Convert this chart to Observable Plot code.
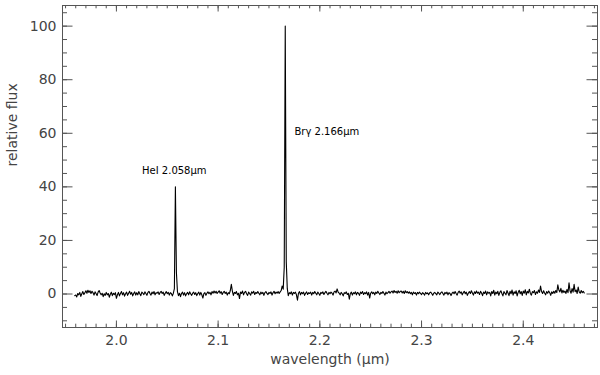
<!DOCTYPE html>
<html><head><meta charset="utf-8">
<script src="https://cdn.jsdelivr.net/npm/d3@7"></script>
<script src="https://cdn.jsdelivr.net/npm/@observablehq/plot@0.6"></script>
<style>body{margin:0;background:#fff}#chart svg{display:block}</style>
</head><body><div id="chart"></div>
<script>
// Spectrum sampled every 0.001 µm starting at 1.959 µm
const waveStart = 1.959;
const waveStep = 0.001;
const flux = [
 -0.6,
 -0.4,-1.1,0.2,-0.3,0.6,-0.9,0.1,0.9,-0.2,0.5,
 1.2,0.3,1.4,0.6,1.2,0.2,1.0,0.5,-0.4,0.8,
 0.2,-0.6,0.7,1.3,0.4,-0.3,0.3,-1.0,0.1,-0.5,
 0.6,-0.3,0.2,-1.2,-0.1,0.7,-0.6,0.3,-0.2,0.5,
 -1.6,-0.3,0.6,-0.7,0.2,0.9,-0.3,0.5,-0.8,0.1,
 0.7,-0.5,0.3,1.0,-0.1,0.6,-0.7,0.2,0.8,-0.4,
 0.5,-0.3,0.9,0.1,-0.6,0.7,0.3,-0.2,0.8,0.2,
 -0.5,0.6,1.0,0.2,-0.4,0.7,0.1,0.9,-0.3,0.5,
 0.3,0.8,-0.2,0.6,1.0,0.2,0.7,-0.5,0.3,0.9,
 0.1,0.6,-0.4,0.5,0.2,-0.7,0.3,2.0,40.0,8.0,
 0.9,-0.6,0.3,-1.0,0.2,0.7,-0.4,0.5,-0.7,0.1,
 0.6,-0.3,0.8,0.1,-0.5,0.3,0.7,-0.2,0.5,-0.6,
 0.2,0.7,-0.4,0.6,-0.3,-1.5,0.1,0.5,-0.5,0.3,
 0.8,0.1,0.6,-0.3,0.9,0.3,1.1,0.4,1.0,0.2,
 0.7,1.2,0.3,0.9,-0.2,0.6,1.0,0.2,0.7,-0.4,
 0.5,0.1,1.3,3.6,1.1,-0.5,0.6,0.2,0.9,-0.3,
 0.3,-1.7,0.7,0.2,1.1,-0.3,0.6,1.0,0.1,-0.5,
 0.7,0.2,-0.4,0.8,0.3,1.0,-0.2,0.6,0.2,0.9,
 0.3,-0.3,0.7,0.1,0.6,-0.5,0.5,0.9,0.2,-0.2,
 0.6,0.2,0.8,-0.4,0.5,1.0,0.1,0.7,0.3,0.9,
 0.2,0.8,1.3,3.0,1.8,10.0,100.0,12.0,2.0,-0.6,
 0.5,0.1,0.8,-0.4,0.6,0.2,0.7,-0.3,-2.3,0.3,
 0.9,-0.3,0.6,0.1,0.7,-0.5,0.3,0.8,-0.2,0.5,
 0.2,0.7,-0.4,0.6,0.1,0.9,0.3,-0.3,0.7,0.2,
 -0.5,0.6,0.2,0.8,-0.2,0.5,1.0,0.3,-0.3,0.6,
 0.1,0.7,0.3,-0.4,0.8,1.1,0.4,1.9,0.7,0.3,
 -0.3,0.6,0.1,-0.7,0.5,0.2,0.8,-0.2,0.3,-1.9,
 0.2,0.7,-0.4,0.5,0.1,0.8,-0.3,0.6,0.3,-0.5,
 0.7,0.2,0.9,-0.2,0.5,0.1,0.8,-0.4,0.6,-1.5,
 0.3,0.8,0.1,0.6,-0.3,0.7,0.2,1.0,0.4,-0.2,
 0.6,0.2,0.9,0.3,-0.4,0.7,0.1,0.5,1.0,0.3,
 0.8,1.1,0.4,1.3,0.6,1.0,0.3,1.2,0.5,0.9,
 1.1,0.4,1.0,0.2,1.2,0.5,0.9,0.3,0.8,0.1,
 0.6,-0.3,0.7,0.2,0.5,-0.4,0.6,0.1,0.7,0.2,
 -0.2,0.5,0.2,-0.4,0.6,0.1,0.4,-0.3,0.5,0.7,
 0.2,-0.5,0.3,0.6,0.1,-0.3,0.7,0.3,-0.2,0.5,
 0.8,0.2,-0.4,0.6,0.1,0.7,-0.3,0.5,0.2,-0.6,
 0.3,0.7,0.1,0.9,0.2,-0.4,0.6,1.1,0.3,0.8,
 -0.3,0.5,1.0,0.1,0.7,-0.5,0.3,0.9,0.2,1.2,
 0.4,-0.4,0.8,0.2,1.1,0.3,0.7,-0.2,1.0,0.4,
 -0.6,0.7,0.2,1.1,-0.3,0.8,0.3,0.6,-0.7,0.9,
 0.2,1.4,-0.4,0.7,0.1,1.0,-0.5,0.6,1.2,0.2,
 -0.7,0.9,0.3,-0.3,1.3,0.4,-0.6,1.0,0.1,1.5,
 -0.4,0.8,0.2,1.2,-0.7,0.6,1.4,0.1,0.9,-0.5,
 1.1,0.3,1.6,-0.3,1.0,0.4,1.8,0.2,-0.4,0.9,
 0.5,1.3,-0.2,0.8,0.3,1.5,0.6,3.0,0.9,0.2,
 1.2,0.4,-0.3,0.9,0.3,1.1,0.5,-0.5,0.8,0.2,
 1.0,0.3,1.3,0.6,3.4,1.5,0.8,2.1,0.4,1.4,
 0.6,1.1,0.2,1.7,0.5,4.2,1.2,0.3,2.0,0.7,
 3.6,0.9,1.5,0.2,2.6,0.8,0.3,1.3,0.5,1.0,
 0.4
];
const xTicks = [2.0, 2.1, 2.2, 2.3, 2.4];
const yTicks = [0, 20, 40, 60, 80, 100];
const xLabel = "wavelength (μm)";
const yLabel = "relative flux";
const lineNames = ["HeI 2.058μm", "Brγ 2.166μm"];
const lineLabelX = [2.0252, 2.1751];
const lineLabelY = [46, 60.7];

const wavelength = flux.map((_, i) => +(waveStart + i * waveStep).toFixed(3));
const spectrum = flux.map((f, i) => ({w: wavelength[i], f}));
const labels = lineNames.map((t, i) => ({t, x: lineLabelX[i], y: lineLabelY[i]}));
const xMinor = d3.range(195, 248).map(d => d / 100);
const yMinor = d3.range(-10, 106, 5);

const W = 600, H = 375, mL = 62, mR = 3, mT = 5, mB = 48;
const innerW = W - mL - mR, innerH = H - mT - mB;
const axisColor = "#555";
const textColor = "#444";

const chart = Plot.plot({
  width: W, height: H,
  marginLeft: mL, marginRight: mR, marginTop: mT, marginBottom: mB,
  x: {domain: [1.947, 2.473], axis: null},
  y: {domain: [-12.5, 107.7], axis: null},
  style: {fontFamily: "DejaVu Sans", fontSize: "14px", background: "white", color: textColor},
  marks: [
    Plot.line(spectrum, {x: "w", y: "f", stroke: "black", strokeWidth: 1.1}),
    Plot.frame({stroke: axisColor}),
    Plot.tickX(xTicks, {x: d => d, insetTop: innerH - 6.5, stroke: axisColor}),
    Plot.tickX(xTicks, {x: d => d, insetBottom: innerH - 6.5, stroke: axisColor}),
    Plot.tickX(xMinor, {x: d => d, insetTop: innerH - 3.3, stroke: axisColor}),
    Plot.tickX(xMinor, {x: d => d, insetBottom: innerH - 3.3, stroke: axisColor}),
    Plot.tickY(yTicks, {y: d => d, insetRight: innerW - 10.5, stroke: axisColor}),
    Plot.tickY(yTicks, {y: d => d, insetLeft: innerW - 10.5, stroke: axisColor}),
    Plot.tickY(yMinor, {y: d => d, insetRight: innerW - 5, stroke: axisColor}),
    Plot.tickY(yMinor, {y: d => d, insetLeft: innerW - 5, stroke: axisColor}),
    Plot.axisX({ticks: xTicks, anchor: "bottom", tickSize: 0, tickPadding: 8, tickFormat: d3.format(".1f"), label: null, fontSize: 14, fill: textColor}),
    Plot.axisY({ticks: yTicks, anchor: "left", tickSize: 0, tickPadding: 6, tickFormat: d3.format("d"), label: null, fontSize: 14, fill: textColor}),
    Plot.text([xLabel], {text: d => d, frameAnchor: "bottom", dy: 36, fontSize: 14, fill: textColor}),
    Plot.text([yLabel], {text: d => d, frameAnchor: "left", dx: -50, rotate: -90, fontSize: 14, fill: textColor}),
    Plot.text(labels, {x: "x", y: "y", text: "t", textAnchor: "start", fontSize: 10, fill: "black"})
  ]
});
document.getElementById("chart").append(chart);
</script>
</body></html>
